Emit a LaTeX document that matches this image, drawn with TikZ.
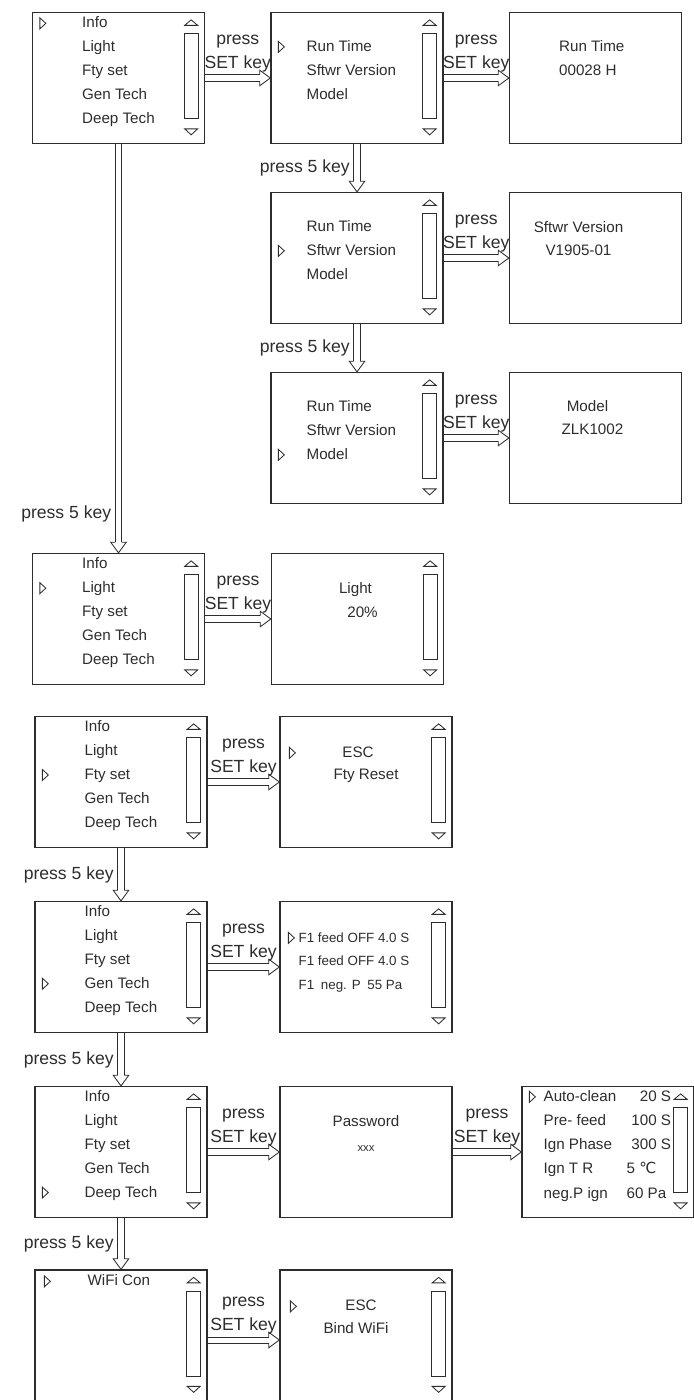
\documentclass[tikz,border=0pt]{standalone}
\usepackage{fontspec}
\setmainfont{Liberation Sans}
\newfontfamily\symfont{DejaVu Sans}
\usetikzlibrary{positioning, arrows.meta, calc}
\definecolor{InkColor}{RGB}{45,45,45}

\tikzset{
  screen/.style={draw=InkColor, line width=0.9pt, minimum width=4.3cm, minimum height=3.275cm, inner sep=0pt},
  item/.style={anchor=west, inner sep=0pt, text height=1.6ex, text depth=0.4ex, text=InkColor, font=\fontsize{10.8}{13}\selectfont},
  small item/.style={item, font=\fontsize{9.5}{12}\selectfont},
  centred/.style={item, anchor=center},
  keylabel/.style={text=InkColor, align=center, inner sep=2pt, font=\fontsize{12.5}{17}\selectfont},
  shaft/.style={draw=InkColor, line width=0.6pt, line join=miter},
  cursor/.pic={\draw[InkColor, line width=0.6pt] (0,5.5) -- (6,0) -- (0,-5.5) -- cycle;},
  scroller/.pic={
    \draw[InkColor, line width=0.6pt] (-20.5,-13.5) -- (-14,-8) -- (-7.5,-13.5) -- cycle;
    \draw[InkColor, line width=0.7pt] (-21,-22) rectangle (-7,-107);
    \draw[InkColor, line width=0.6pt] (-20.5,-117) -- (-14,-123) -- (-7.5,-117) -- cycle;
  }
}

% main menu: box name, selected line
\newcommand{\menulist}[2]{%
  \foreach \txt [count=\k] in {Info, Light, Fty set, Gen Tech, Deep Tech}
    \node[item] (#1-\k) at ($(#1.north west)+(50,{-11.5-23.8*(\k-1)})$) {\txt};
  \pic at ($(#1.north west)+(8,{-11.5-23.8*(#2-1)})$) {cursor};
  \pic at (#1.north east) {scroller};
}
% info sub menu: box name, selected line
\newcommand{\infolist}[2]{%
  \foreach \txt [count=\k] in {Run Time, Sftwr Version, Model}
    \node[item] (#1-\k) at ($(#1.north west)+(36,{-35-24*(\k-1)})$) {\txt};
  \pic at ($(#1.north west)+(8,{-35-24*(#2-1)})$) {cursor};
  \pic at (#1.north east) {scroller};
}
% hollow double arrow, left to right: from, to
\newcommand{\setarrow}[2]{%
  \draw[shaft] ($(#1.east)+(0pt,2.2pt)$) -- ($(#2.west)+(-7.5pt,2.2pt)$);
  \draw[shaft] ($(#1.east)+(0pt,-2.2pt)$) -- ($(#2.west)+(-7.5pt,-2.2pt)$);
  \draw[shaft] ($(#2.west)+(-7.5pt,2.2pt)$) -- ($(#2.west)+(-7.5pt,5.5pt)$) -- (#2.west)
    -- ($(#2.west)+(-7.5pt,-5.5pt)$) -- ($(#2.west)+(-7.5pt,-2.2pt)$);
  \node[keylabel, above=2pt] (set-#1) at ($(#1.east)!0.5!(#2.west)$) {press\\SET key};
}
% hollow double arrow, downwards: from, to, label position
\newcommand{\fivearrow}[3]{%
  \draw[shaft] ($(#1.south)+(-2.2pt,0pt)$) -- ($(#2.north)+(-2.2pt,7.5pt)$);
  \draw[shaft] ($(#1.south)+(2.2pt,0pt)$) -- ($(#2.north)+(2.2pt,7.5pt)$);
  \draw[shaft] ($(#2.north)+(-2.2pt,7.5pt)$) -- ($(#2.north)+(-5.5pt,7.5pt)$) -- (#2.north)
    -- ($(#2.north)+(5.5pt,7.5pt)$) -- ($(#2.north)+(2.2pt,7.5pt)$);
  \node[keylabel, left=3pt] (five-#1) at ($(#1.south)!#3!(#2.north)$) {press 5 key};
}

\begin{document}
\begin{tikzpicture}[x=0.025cm, y=0.025cm]
  \useasboundingbox (0,0) rectangle (693,-1400);

  % screens
  \node[screen] (m1)  at (118.5,-78) {};
  \node[screen] (rt1) at (357,-78) {};
  \node[screen] (rtv) at (595.5,-78) {};
  \node[screen] (rt2) at (357,-258) {};
  \node[screen] (swv) at (595.5,-258) {};
  \node[screen] (rt3) at (357,-438) {};
  \node[screen] (mdv) at (595.5,-438) {};
  \node[screen] (m2)  at (118.5,-619) {};
  \node[screen] (ltv) at (357.5,-619) {};
  \node[screen] (m3)  at (121,-782) {};
  \node[screen] (fty) at (366,-782) {};
  \node[screen] (m4)  at (121,-967) {};
  \node[screen] (gen) at (366,-967) {};
  \node[screen] (m5)  at (121,-1152) {};
  \node[screen] (pwd) at (366,-1152) {};
  \node[screen] (deep) at (608,-1152) {};
  \node[screen, minimum height=3.5cm] (m6)   at (121,-1340) {};
  \node[screen, minimum height=3.5cm] (wifi) at (366,-1340) {};

  % menus
  \menulist{m1}{1}
  \menulist{m2}{2}
  \menulist{m3}{3}
  \menulist{m4}{4}
  \menulist{m5}{5}
  \infolist{rt1}{1}
  \infolist{rt2}{2}
  \infolist{rt3}{3}

  % values
  \node[item] (rtv-1) at ($(rtv.north west)+(50,-35)$) {Run Time};
  \node[item] (rtv-2) at ($(rtv.north west)+(50,-59)$) {00028 H};
  \node[centred] (swv-1) at ($(swv.north)+(-17,-36)$) {Sftwr Version};
  \node[centred] (swv-2) at ($(swv.north)+(-17,-59)$) {V1905-01};
  \node[centred] (mdv-1) at ($(mdv.north)+(-8,-35)$) {Model};
  \node[centred] (mdv-2) at ($(mdv.north)+(-3,-58)$) {ZLK1002};

  \node[centred] (ltv-1) at ($(ltv.north)+(-2,-36)$) {Light};
  \node[centred] (ltv-2) at ($(ltv.north)+(5,-60)$) {20\%};
  \pic at (ltv.north east) {scroller};

  \pic at ($(fty.north west)+(10,-37)$) {cursor};
  \node[centred] (fty-1) at ($(fty.north)+(-8,-37)$) {ESC};
  \node[centred] (fty-2) at ($(fty.north)+(0,-59)$) {Fty Reset};
  \pic at (fty.north east) {scroller};

  \pic at ($(gen.north west)+(9,-37)$) {cursor};
  \node[small item] (gen-1) at ($(gen.north west)+(19,-37)$) {F1 feed OFF 4.0 S};
  \node[small item] (gen-2) at ($(gen.north west)+(19,-60.5)$) {F1 feed OFF 4.0 S};
  \node[small item] (gen-3) at ($(gen.north west)+(19,-84)$) {F1\enspace neg. P\enspace 55 Pa};
  \pic at (gen.north east) {scroller};

  \node[centred] (pwd-1) at ($(pwd.north)+(0,-36)$) {Password};
  \node[centred, font=\fontsize{8}{10}\selectfont] (pwd-2) at ($(pwd.north)+(0,-61)$) {xxx};

  \pic at ($(deep.north west)+(8,-11)$) {cursor};
  \foreach \txt [count=\k] in {Auto-clean, Pre- feed, Ign Phase, Ign T R, neg.P ign}
    \node[item] (deep-\k) at ($(deep.north west)+(22,{-11-24.2*(\k-1)})$) {\txt};
  \node[item, anchor=east] (deep-v1) at ($(deep.north west)+(150,-11)$) {20 S};
  \node[item, anchor=east] (deep-v2) at ($(deep.north west)+(150,-35.2)$) {100 S};
  \node[item, anchor=east] (deep-v3) at ($(deep.north west)+(150,-59.4)$) {300 S};
  \node[item] (deep-v4) at ($(deep.north west)+(105,-83.6)$) {5 {\symfont ℃}};
  \node[item] (deep-v5) at ($(deep.north west)+(105,-107.8)$) {60 Pa};
  \pic at (deep.north east) {scroller};

  \pic at ($(m6.north west)+(10,-12)$) {cursor};
  \node[item] (m6-1) at ($(m6.north west)+(53,-12)$) {WiFi Con};
  \pic at (m6.north east) {scroller};

  \pic at ($(wifi.north west)+(11,-37)$) {cursor};
  \node[centred] (wifi-1) at ($(wifi.north)+(-5,-37)$) {ESC};
  \node[centred] (wifi-2) at ($(wifi.north)+(-10,-60)$) {Bind WiFi};
  \pic at (wifi.north east) {scroller};

  % press SET key
  \foreach \a/\b in {m1/rt1, rt1/rtv, rt2/swv, rt3/mdv, m2/ltv, m3/fty, m4/gen, m5/pwd, pwd/deep, m6/wifi} {
    \setarrow{\a}{\b}
  }

  % press 5 key
  \fivearrow{m1}{m2}{0.905}
  \foreach \a/\b in {rt1/rt2, rt2/rt3, m3/m4, m4/m5, m5/m6} {
    \fivearrow{\a}{\b}{0.5}
  }
\end{tikzpicture}
\end{document}
